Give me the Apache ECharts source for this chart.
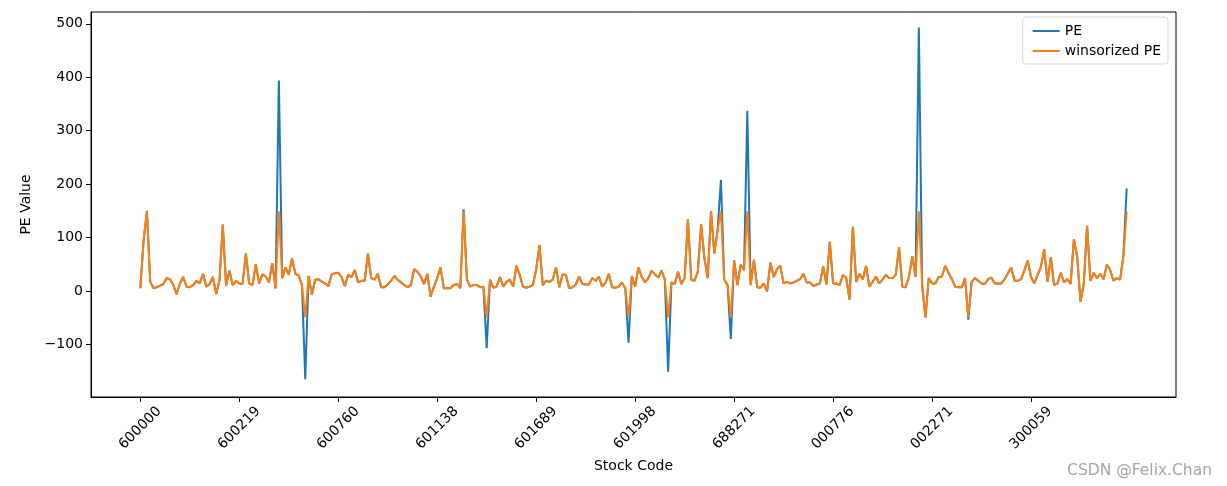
<!DOCTYPE html>
<html>
<head>
<meta charset="utf-8">
<script src="https://cdn.jsdelivr.net/npm/echarts@6/dist/echarts.min.js"></script>
<style>html,body{margin:0;padding:0;background:#fff;}#c{width:1227px;height:486px;}</style>
</head>
<body>
<div id="c"></div>
<script>
// Tick positions (point index) and their stock-code labels
const tickIdx = [0, 30, 60, 90, 120, 150, 180, 210, 240, 270];
const tickLabels = ['600000','600219','600760','601138','601689','601998','688271','000776','002271','300059'];
const yTicks = [-100, 0, 100, 200, 300, 400, 500];

// PE values, one per stock (index 0..299)
const pe = [
 5, 95, 150, 17, 5, 7, 10, 13, 24, 22,
 11, -6, 14, 26, 8, 7, 11, 19, 14, 32,
 8, 13, 26, -6, 20, 124, 10, 38, 11, 19,
 14, 13, 70, 14, 11, 50, 14, 31, 27, 16,
 52, 5, 394, 24, 44, 30, 61, 32, 29, 11,
 -165, 28, -7, 21, 22, 17, 14, 9, 31, 33,
 34, 26, 9, 30, 26, 39, 16, 19, 19, 70,
 24, 21, 32, 7, 7, 12, 19, 28, 21, 16,
 11, 7, 11, 41, 36, 27, 13, 32, -11, 8,
 24, 44, 5, 5, 5, 11, 13, 5, 153, 21,
 8, 11, 11, 7, 8, -107, 21, 6, 8, 26,
 8, 17, 21, 8, 47, 30, 8, 6, 8, 11,
 40, 86, 11, 19, 17, 21, 44, 7, 31, 30,
 5, 7, 12, 27, 13, 12, 12, 24, 19, 27,
 8, 15, 32, 7, 6, 8, 16, 5, -97, 28,
 8, 44, 26, 16, 24, 38, 31, 25, 38, 21,
 -151, 16, 13, 36, 13, 24, 134, 21, 19, 36,
 125, 61, 24, 149, 70, 114, 208, 21, 11, -90,
 57, 11, 49, 39, 337, 11, 58, 7, 6, 14,
 -1, 53, 26, 41, 47, 14, 17, 14, 16, 19,
 22, 32, 16, 16, 9, 12, 14, 46, 12, 92,
 14, 14, 11, 30, 24, -16, 120, 17, 32, 22,
 47, 8, 17, 27, 14, 21, 30, 24, 24, 30,
 82, 8, 7, 26, 65, 26, 493, 10, -49.5, 24,
 14, 14, 26, 27, 47, 34, 22, 8, 7, 7,
 24, -54, 17, 24, 19, 14, 13, 22, 25, 14,
 14, 14, 22, 33, 44, 19, 19, 22, 39, 57,
 26, 14, 30, 45, 78, 17, 63, 11, 14, 34,
 16, 22, 13, 97, 63, -20, 14, 122, 19, 34,
 24, 32, 22, 49, 39, 19, 24, 21, 65, 192
];

// Winsorized PE values (clipped at about -49.5 / 149)
const winsorizedPe = [
 5, 95, 149, 17, 5, 7, 10, 13, 24, 22,
 11, -6, 14, 26, 8, 7, 11, 19, 14, 32,
 8, 13, 26, -6, 20, 124, 10, 38, 11, 19,
 14, 13, 70, 14, 11, 50, 14, 31, 27, 16,
 52, 5, 149, 24, 44, 30, 61, 32, 29, 11,
 -49.5, 28, -7, 21, 22, 17, 14, 9, 31, 33,
 34, 26, 9, 30, 26, 39, 16, 19, 19, 70,
 24, 21, 32, 7, 7, 12, 19, 28, 21, 16,
 11, 7, 11, 41, 36, 27, 13, 32, -11, 8,
 24, 44, 5, 5, 5, 11, 13, 5, 149, 21,
 8, 11, 11, 7, 8, -49.5, 21, 6, 8, 26,
 8, 17, 21, 8, 47, 30, 8, 6, 8, 11,
 40, 86, 11, 19, 17, 21, 44, 7, 31, 30,
 5, 7, 12, 27, 13, 12, 12, 24, 19, 27,
 8, 15, 32, 7, 6, 8, 16, 5, -49.5, 28,
 8, 44, 26, 16, 24, 38, 31, 25, 38, 21,
 -49.5, 16, 13, 36, 13, 24, 134, 21, 19, 36,
 125, 61, 24, 149, 70, 114, 149, 21, 11, -49.5,
 57, 11, 49, 39, 149, 11, 58, 7, 6, 14,
 -1, 53, 26, 41, 47, 14, 17, 14, 16, 19,
 22, 32, 16, 16, 9, 12, 14, 46, 12, 92,
 14, 14, 11, 30, 24, -16, 120, 17, 32, 22,
 47, 8, 17, 27, 14, 21, 30, 24, 24, 30,
 82, 8, 7, 26, 65, 26, 149, 10, -49.5, 24,
 14, 14, 26, 27, 47, 34, 22, 8, 7, 7,
 24, -49.5, 17, 24, 19, 14, 13, 22, 25, 14,
 14, 14, 22, 33, 44, 19, 19, 22, 39, 57,
 26, 14, 30, 45, 78, 17, 63, 11, 14, 34,
 16, 22, 13, 97, 63, -20, 14, 122, 19, 34,
 24, 32, 22, 49, 39, 19, 24, 21, 65, 149
];

const FONT = 'DejaVu Sans';
const chart = echarts.init(document.getElementById('c'), null, {renderer: 'canvas'});
const toPairs = arr => arr.map((v, i) => [i, v]);

chart.setOption({
  animation: false,
  backgroundColor: '#fff',
  grid: {left: 91, right: 51, top: 12, bottom: 89, show: true, borderColor: '#000', borderWidth: 1, backgroundColor: 'transparent'},
  legend: {
    orient: 'vertical', right: 59, top: 17,
    padding: [7, 7, 6, 10], itemGap: 6,
    itemWidth: 27, itemHeight: 2,
    backgroundColor: '#fff', borderColor: '#d8d8d8', borderWidth: 1, borderRadius: 3,
    textStyle: {fontFamily: FONT, fontSize: 14, color: '#000'},
    data: [{name: 'PE', icon: 'rect'}, {name: 'winsorized PE', icon: 'rect'}]
  },
  xAxis: {
    type: 'value', min: -14.95, max: 313.95,
    name: 'Stock Code', nameLocation: 'middle', nameGap: 62,
    nameTextStyle: {fontFamily: FONT, fontSize: 14, color: '#000'},
    axisLine: {show: true, onZero: false, lineStyle: {color: '#000', width: 1}},
    splitLine: {show: false},
    axisTick: {show: true, customValues: tickIdx, length: 5, lineStyle: {color: '#000'}},
    axisLabel: {
      customValues: tickIdx, rotate: 45, align: 'center', verticalAlign: 'middle', margin: 31,
      fontFamily: FONT, fontSize: 14, color: '#000',
      formatter: v => { const k = tickIdx.indexOf(Math.round(v)); return k >= 0 ? tickLabels[k] : ''; }
    }
  },
  yAxis: {
    type: 'value', min: -198.5, max: 522,
    name: 'PE Value', nameLocation: 'middle', nameGap: 52,
    nameTextStyle: {fontFamily: FONT, fontSize: 14, color: '#000'},
    axisLine: {show: true, onZero: false, lineStyle: {color: '#000', width: 1}},
    splitLine: {show: false},
    axisTick: {show: true, customValues: yTicks, length: 5, lineStyle: {color: '#000'}},
    axisLabel: {customValues: yTicks, margin: 8, fontFamily: FONT, fontSize: 14, color: '#000',
      formatter: v => String(Math.round(v)).replace('-', '\u2212')}
  },
  series: [
    {name: 'PE', type: 'line', data: toPairs(pe), showSymbol: false, symbol: 'none',
     lineStyle: {color: '#1f77b4', width: 2}, itemStyle: {color: '#1f77b4'}, z: 2},
    {name: 'winsorized PE', type: 'line', data: toPairs(winsorizedPe), showSymbol: false, symbol: 'none',
     lineStyle: {color: '#ff7f0e', width: 2}, itemStyle: {color: '#ff7f0e'}, z: 3}
  ],
  graphic: [{
    type: 'text', right: 15, top: 463,
    style: {text: 'CSDN @Felix.Chan', fontFamily: FONT, fontSize: 15.5, fill: '#a6a6a6'}
  }]
});
</script>
</body>
</html>
